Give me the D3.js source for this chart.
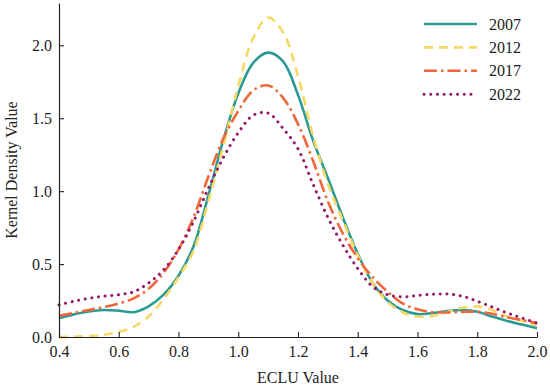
<!DOCTYPE html>
<html>
<head>
<meta charset="utf-8">
<script src="https://cdn.jsdelivr.net/npm/d3@7"></script>
<style>
  body { margin: 0; background: #fff; }
  text { font-family: "Liberation Serif", "Times New Roman", serif; fill: #222; }
</style>
</head>
<body>
<div id="chart"></div>
<script>
// ECLU grid (x) and kernel density estimates
const eclu = [0.40, 0.45, 0.50, 0.55, 0.60, 0.65, 0.70, 0.75, 0.80, 0.85, 0.90, 0.95,
  1.00, 1.05, 1.10, 1.15, 1.20, 1.25, 1.30, 1.35, 1.40, 1.45, 1.50, 1.55,
  1.60, 1.65, 1.70, 1.75, 1.80, 1.85, 1.90, 1.95, 2.00];
const d2007 = [0.13, 0.155, 0.175, 0.185, 0.18, 0.17, 0.21, 0.29, 0.42, 0.62, 0.97, 1.35,
  1.67, 1.88, 1.95, 1.89, 1.66, 1.35, 1.09, 0.82, 0.57, 0.37, 0.25, 0.185,
  0.157, 0.164, 0.178, 0.185, 0.173, 0.14, 0.11, 0.085, 0.06];
const d2012 = [0.0, 0.002, 0.006, 0.015, 0.035, 0.07, 0.14, 0.26, 0.41, 0.59, 0.93, 1.31,
  1.72, 2.05, 2.19, 2.09, 1.79, 1.38, 1.05, 0.80, 0.56, 0.37, 0.24, 0.17,
  0.14, 0.145, 0.17, 0.20, 0.21, 0.185, 0.14, 0.11, 0.08];
const d2017 = [0.145, 0.165, 0.185, 0.205, 0.23, 0.265, 0.33, 0.44, 0.60, 0.82, 1.10, 1.36,
  1.55, 1.69, 1.725, 1.64, 1.46, 1.21, 0.93, 0.71, 0.54, 0.41, 0.31, 0.23,
  0.19, 0.17, 0.168, 0.172, 0.173, 0.16, 0.135, 0.115, 0.095];
const d2022 = [0.22, 0.245, 0.265, 0.28, 0.29, 0.31, 0.37, 0.46, 0.60, 0.79, 1.02, 1.23,
  1.40, 1.52, 1.535, 1.43, 1.29, 1.05, 0.82, 0.63, 0.47, 0.345, 0.29, 0.275,
  0.285, 0.293, 0.295, 0.28, 0.245, 0.205, 0.165, 0.13, 0.095];
const years = ["2007", "2012", "2017", "2022"];
const xTicks = [0.4, 0.6, 0.8, 1.0, 1.2, 1.4, 1.6, 1.8, 2.0];
const yTicks = [0.0, 0.5, 1.0, 1.5, 2.0];

const width = 550;
const height = 388;
const margin = { top: 3, right: 13, bottom: 51, left: 59 };

const styles = [
  { color: "#2a9a94", dash: null, cap: "butt" },
  { color: "#f6d865", dash: "9,6", cap: "butt" },
  { color: "#f1673c", dash: "13,4,2.5,4", cap: "butt" },
  { color: "#951b68", dash: "0.1,6.6", cap: "round" }
];

const series = [d2007, d2012, d2017, d2022].map((vals, i) => ({
  name: years[i],
  values: eclu.map((x, j) => ({ x: x, y: vals[j] })),
  style: styles[i]
}));

const svg = d3.select("#chart")
  .append("svg")
  .attr("width", width)
  .attr("height", height);

const x = d3.scaleLinear().domain([0.4, 2.0]).range([margin.left, width - margin.right]);
const y = d3.scaleLinear().domain([0, 2.29]).range([height - margin.bottom, margin.top]);

const line = d3.line()
  .x(d => x(d.x))
  .y(d => y(d.y))
  .curve(d3.curveCatmullRom.alpha(0.5));

svg.selectAll("path.kde")
  .data(series)
  .enter()
  .append("path")
  .attr("class", "kde")
  .attr("d", d => line(d.values))
  .attr("fill", "none")
  .attr("stroke", d => d.style.color)
  .attr("stroke-width", d => d.name === "2022" ? 3 : 2.6)
  .attr("stroke-linecap", d => d.style.cap)
  .attr("stroke-dasharray", d => d.style.dash);

// axes, ticks pointing inward
const xAxis = svg.append("g")
  .attr("transform", `translate(0,${height - margin.bottom})`)
  .call(d3.axisBottom(x).tickValues(xTicks).tickFormat(d3.format(".1f")).tickSizeInner(-5).tickSizeOuter(0).tickPadding(9));
const yAxis = svg.append("g")
  .attr("transform", `translate(${margin.left},0)`)
  .call(d3.axisLeft(y).tickValues(yTicks).tickFormat(d3.format(".1f")).tickSizeInner(-5).tickSizeOuter(0).tickPadding(7));

[xAxis, yAxis].forEach(g => {
  g.select(".domain").attr("stroke", "#222").attr("stroke-width", 1.2);
  g.selectAll(".tick line").attr("stroke", "#222").attr("stroke-width", 1.1);
  g.selectAll(".tick text")
    .attr("font-family", "Liberation Serif, serif")
    .attr("font-size", 16)
    .attr("fill", "#222");
});

svg.append("text")
  .attr("x", (margin.left + width - margin.right) / 2)
  .attr("y", 383)
  .attr("text-anchor", "middle")
  .attr("font-size", 16)
  .text("ECLU Value");

svg.append("text")
  .attr("transform", `translate(17,${(margin.top + height - margin.bottom) / 2}) rotate(-90)`)
  .attr("text-anchor", "middle")
  .attr("font-size", 16)
  .text("Kernel Density Value");

// legend
const legend = svg.append("g").attr("transform", "translate(424,24)");
const rows = legend.selectAll("g")
  .data(series)
  .enter()
  .append("g")
  .attr("transform", (d, i) => `translate(0,${i * 23.4})`);

rows.append("line")
  .attr("x1", 0)
  .attr("x2", 53)
  .attr("stroke", d => d.style.color)
  .attr("stroke-width", d => d.name === "2022" ? 3 : 2.6)
  .attr("stroke-linecap", d => d.style.cap)
  .attr("stroke-dasharray", d => d.style.dash);

rows.append("text")
  .attr("x", 65)
  .attr("dy", "0.35em")
  .attr("font-size", 16)
  .text(d => d.name);
</script>
</body>
</html>
